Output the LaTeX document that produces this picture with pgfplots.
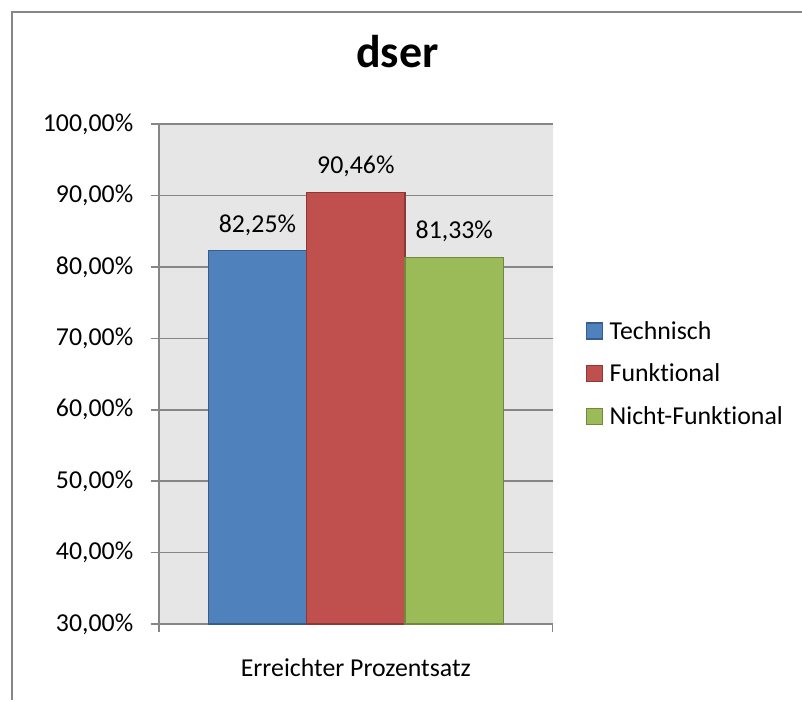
\documentclass[border=0pt]{standalone}
\usepackage{fontspec}
\setmainfont{Carlito}[Ligatures=NoCommon]
\usepackage{pgfplots}
\pgfplotsset{compat=1.18}
\definecolor{bgg}{HTML}{E6E6E6}
\definecolor{gridg}{HTML}{868686}
\definecolor{cA}{HTML}{4F81BD}
\definecolor{cAd}{HTML}{385D8A}
\definecolor{cB}{HTML}{C0504D}
\definecolor{cBd}{HTML}{8C3836}
\definecolor{cC}{HTML}{9BBB59}
\definecolor{cCd}{HTML}{71893F}
\begin{document}
\begin{tikzpicture}
\path[use as bounding box] (0,0) rectangle (310.775pt,271.25pt);
\draw[gridg, line width=0.65pt] (4.77pt,0) -- (4.77pt,266.6pt) -- (312pt,266.6pt);
\begin{axis}[
 at={(61.61pt,29.45pt)}, anchor=south west,
 width=152.56pt, height=193.75pt, scale only axis,
 xmin=-0.5, xmax=0.5, ymin=30, ymax=100,
 axis lines=left, axis line style={-, gridg, line width=0.6pt},
 axis background/.style={fill=bgg},
 ytick={30,40,...,100}, ymajorgrids, grid style={gridg, line width=0.6pt},
 xtick={-0.5,0.5}, xticklabels={},
 tick align=outside, major tick length=3.1pt, tick style={gridg, line width=0.6pt},
 /pgf/number format/assume math mode=true,
 yticklabel={\pgfmathprintnumber[fixed,fixed zerofill,precision=2,use comma,assume math mode=true]{\tick}\%},
 yticklabel style={inner sep=0pt, xshift=-6.7pt, font=\fontsize{10}{12}\selectfont},
 xlabel={Erreichter Prozentsatz},
 xlabel style={at={(axis description cs:0.5,0)}, anchor=base, inner sep=0pt, yshift=-20.2pt, font=\fontsize{10}{12}\selectfont},
 ybar, bar width=0.25, bar shift=0pt,
 nodes near coords style={anchor=base, inner sep=0pt, yshift=7.25pt, text=black, font=\fontsize{10}{12}\selectfont},
 legend image code/.code={\draw[#1] (0pt,-3.5pt) rectangle (6.2pt,2.7pt);},
 legend cell align=left,
 legend style={at={(axis description cs:1.0635,0.502)}, anchor=west, draw=none, fill=none,
   row sep=9.3pt, column sep=2.5pt, font=\fontsize{10}{12}\selectfont,
   nodes={inner sep=0pt, text height=7pt, text depth=0pt}},
]
\addplot[fill=cA, draw=cAd, line width=0.5pt, nodes near coords={82,25\%}] coordinates {(-0.25,82.25)};
\addlegendentry{Technisch}
\addplot[fill=cB, draw=cBd, line width=0.5pt, nodes near coords={90,46\%}] coordinates {(0,90.46)};
\addlegendentry{Funktional}
\addplot[fill=cC, draw=cCd, line width=0.5pt, nodes near coords={81,33\%}] coordinates {(0.25,81.33)};
\addlegendentry{Nicht-Funktional}
\end{axis}
\node[anchor=base, inner sep=0pt, font=\bfseries\fontsize{17.8}{20}\selectfont] at (154.03pt,245.17pt) {dser};
\end{tikzpicture}
\end{document}
